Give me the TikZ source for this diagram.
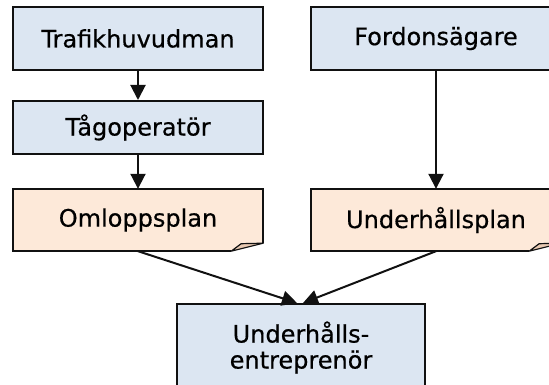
\documentclass[tikz,border=0pt]{standalone}
\usepackage{fontspec}
\setmainfont{DejaVu Sans}[FakeBold=0.5]
\usetikzlibrary{arrows.meta}

\definecolor{actorfill}{HTML}{DCE6F2}
\definecolor{planfill}{HTML}{FDE9D9}
\definecolor{foldfill}{HTML}{E8C9B2}
\definecolor{edgeline}{HTML}{111111}

\tikzset{
  labelfont/.style={font=\fontsize{24}{26}\selectfont},
  box/.style={draw=edgeline, line width=2pt, fill=actorfill,
    minimum width=250pt, inner sep=0pt, labelfont},
  planbox/.style={minimum width=250pt, minimum height=62pt, inner sep=0pt,
    labelfont},
  flow/.style={draw=edgeline, line width=2pt,
    -{Triangle[length=15pt,width=15pt]}},
}

% sheet of paper with a turned-up lower right corner
\newcommand{\notesheet}[1]{%
  \fill[planfill] (#1.north west) -- (#1.north east) -- ([yshift=8pt]#1.south east)
    -- ([xshift=-32pt]#1.south east) -- (#1.south west) -- cycle;
  \filldraw[fill=foldfill, draw=edgeline, line width=1.2pt, line join=round]
    ([xshift=-32pt]#1.south east) -- ([xshift=-22pt,yshift=7.5pt]#1.south east)
    -- ([yshift=8pt]#1.south east) -- cycle;
  \draw[edgeline, line width=2pt, line join=miter]
    ([yshift=8pt]#1.south east) -- (#1.north east) -- (#1.north west)
    -- (#1.south west) -- ([xshift=-32pt]#1.south east);
}

\begin{document}
\begin{tikzpicture}[x=1pt, y=-1pt]
  \useasboundingbox (0,0) rectangle (549,385);
  \clip (0,0) rectangle (549,385);

  \node[box, minimum height=63pt] (thm) at (138,38.5) {Trafikhuvudman};
  \node[box, minimum height=63pt] (fag) at (436,38.5) {Fordonsägare};
  \node[box, minimum height=53pt] (top) at (138,127.5) {Tågoperatör};

  \node[planbox] (olp) at (138,220) {};
  \node[planbox] (uhp) at (436,220) {};
  \notesheet{olp}
  \notesheet{uhp}
  \node[planbox] at (olp.center) {Omloppsplan};
  \node[planbox] at (uhp.center) {Underhållsplan};

  \node[box, minimum width=248pt, minimum height=87pt, align=center]
        (uhe) at (301,347.5) {Underhålls-\\entreprenör};

  \draw[flow] (thm) -- (top);
  \draw[flow] (top) -- (olp.north);
  \draw[flow] (fag) -- (uhp.north);
  \draw[flow] (olp.south) -- ([xshift=-4pt]uhe.north);
  \draw[flow] (uhp.south) -- ([xshift=2pt]uhe.north);
\end{tikzpicture}
\end{document}
